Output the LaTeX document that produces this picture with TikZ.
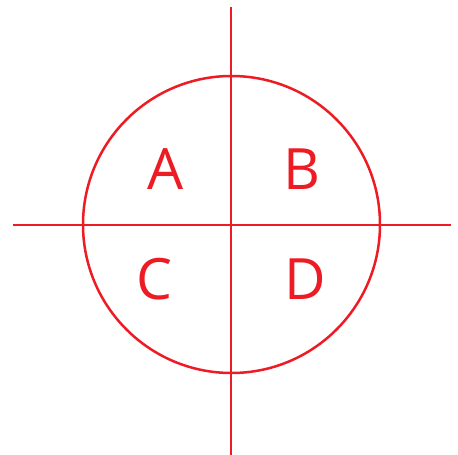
\documentclass[tikz,border=0pt]{standalone}
\usepackage{fontspec}
\setmainfont{Open Sans}
\definecolor{lred}{RGB}{237,28,36}
\begin{document}
\begin{tikzpicture}[x=1pt,y=-1pt,
  redline/.style={draw=lred,line width=2.5pt},
  letter/.style={text=lred,font=\fontsize{57}{57}\selectfont,inner sep=0pt,anchor=center}]
\useasboundingbox (0,0) rectangle (458,455);
\coordinate (top) at (231,7);
\coordinate (bot) at (231,455);
\coordinate (left) at (13,225);
\coordinate (right) at (451,225);
\coordinate (c) at (231.5,224.5);
\draw[redline] (top) -- (bot);
\draw[redline] (left) -- (right);
\draw[redline] (c) circle (148.5);
\node[letter] (A) at (166,169) {\vphantom{A}A};
\node[letter] (B) at (302,169) {B};
\node[letter] (C) at (154,279) {C};
\node[letter] (D) at (305.5,279) {D};
\end{tikzpicture}
\end{document}
